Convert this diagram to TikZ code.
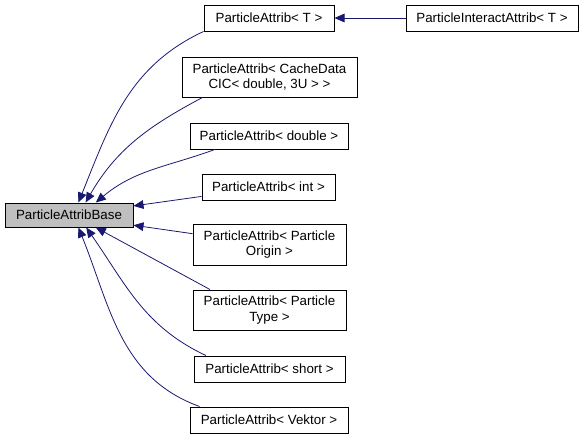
\documentclass[tikz,border=0pt]{standalone}
\usepackage{fontspec}
\setmainfont{Liberation Sans}
\usetikzlibrary{arrows.meta}

\definecolor{edgeblue}{HTML}{191970}
\definecolor{basegray}{HTML}{BFBFBF}

\tikzset{
	cls/.style={draw=black, fill=white, line width=0.75pt, inner sep=2pt, align=center,
		minimum height=19.5pt, font=\fontsize{10}{11.5}\selectfont},
	basebox/.style={cls, fill=basegray, minimum height=18pt},
	inherit/.style={draw=edgeblue, line width=0.6pt,
		-{Triangle[length=7.5pt,width=6.5pt,fill=edgeblue]}}
}

\begin{document}
\begin{tikzpicture}[x=0.75pt,y=0.75pt]
		\useasboundingbox (0,0) rectangle (584,-439);
		
		% Base class
		\node[basebox, minimum width=96pt] (base) at (69,-215) {ParticleAttribBase};
		
		% Derived classes
		\node[cls, minimum width=97.5pt] (attribT) at (269,-18) {ParticleAttrib< T >};
		\node[cls, minimum width=129pt] (interact) at (492,-18) {ParticleInteractAttrib< T >};
		\node[cls, minimum width=131.25pt, minimum height=30pt] (cache) at (269.5,-77) {ParticleAttrib< CacheData\\CIC< double, 3U > >};
		\node[cls, minimum width=118.5pt] (double) at (269,-136) {ParticleAttrib< double >};
		\node[cls, minimum width=99.75pt] (int) at (268.5,-187) {ParticleAttrib< int >};
		\node[cls, minimum width=114.75pt, minimum height=30.75pt] (origin) at (269.5,-244.5) {ParticleAttrib< Particle\\Origin >};
		\node[cls, minimum width=114.75pt, minimum height=30pt] (type) at (269.5,-310) {ParticleAttrib< Particle\\Type >};
		\node[cls, minimum width=113.25pt] (short) at (269.5,-369) {ParticleAttrib< short >};
		\node[cls, minimum width=118.5pt] (vektor) at (269,-420) {ParticleAttrib< Vektor >};
		
		% Draw inheritance edges
		\draw[inherit] (interact) -- (attribT);
		\draw[inherit] (attribT.south west) to[out=205, in=68] (base.53);
		\draw[inherit] (cache.197) to[out=208, in=60] (base.37);
		\draw[inherit] (double.194) to[out=200, in=40] (base.25);
		\draw[inherit] (int.188.6) -- (base.8.9);
		\draw[inherit] (origin.172) -- (base.-9.7);
		\draw[inherit] (type.161) -- (base.-25);
		\draw[inherit] (short.168) to[out=155, in=-55] (base.-36);
		\draw[inherit] (vektor.169) to[out=160, in=-68] (base.-53);
		
\end{tikzpicture}
\end{document}
